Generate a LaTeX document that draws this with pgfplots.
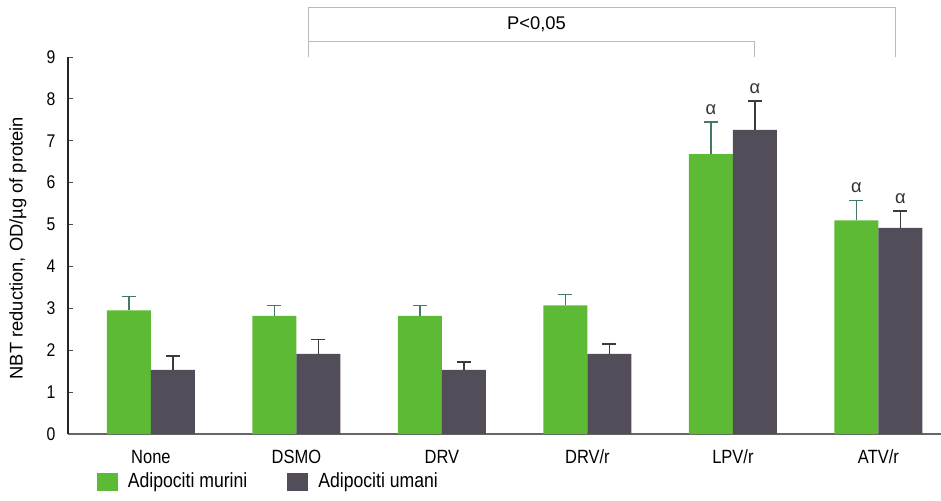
\documentclass[border=0pt]{standalone}
\usepackage{pgfplots}
\pgfplotsset{compat=1.18}
\usepackage{fontspec}
\setmainfont{Liberation Sans}[FakeStretch=0.86]
\newfontfamily\plainsans{Liberation Sans}
\definecolor{barG}{RGB}{92,186,52}
\definecolor{barD}{RGB}{82,77,88}
\definecolor{errG}{RGB}{70,120,100}
\definecolor{errD}{RGB}{60,58,62}
\begin{document}
\begin{tikzpicture}
\path[use as bounding box] (-40.8pt,-39.6pt) rectangle (523.8pt,260.4pt);
\begin{axis}[
  at={(0,0)}, anchor=south west,
  scale only axis,
  width=523.8pt, height=226.2pt,
  xmin=-0.57, xmax=5.43,
  ymin=0, ymax=9,
  clip=false,
  axis x line=bottom, axis y line=left,
  x axis line style={-, draw=gray!80!black, line width=0.8pt},
  y axis line style={-, draw=black!85, line width=0.8pt},
  xtick={0,1,2,3,4,5},
  xticklabels={None,DSMO,DRV,DRV/r,LPV/r,ATV/r},
  xtick style={draw=none},
  ytick={0,1,...,9},
  ytick style={draw=black!70, line width=0.5pt},
  tick align=inside,
  major tick length=3pt,
  tick label style={font=\fontsize{11}{13}\selectfont},
  xticklabel style={font=\fontsize{11.5}{13}\selectfont, yshift=-3pt},
  yticklabel style={xshift=-4pt},
  /pgf/number format/assume math mode=true,
  ylabel={NBT reduction, OD/µg of protein},
  every axis y label/.style={at={(axis description cs:0,0.493)}, xshift=-30pt, rotate=90, anchor=center, font=\plainsans\fontsize{11}{13}\selectfont},
  ybar, bar width=26.4pt,
  legend style={at={(axis description cs:0.033,-0.126)}, anchor=west, draw=none, fill=none,
    legend columns=2, font=\fontsize{12.3}{14}\selectfont, inner sep=0pt, outer sep=0pt,
    /tikz/every odd column/.append style={column sep=4pt},
    /tikz/every even column/.append style={column sep=22pt}},
  legend image code/.code={\fill[#1] (0pt,-5.4pt) rectangle (12.6pt,5.4pt);},
]
\addplot[fill=barG, draw=none, bar shift=-13.2pt,
  error bars/.cd, y dir=plus, y explicit,
  error bar style={draw=errG, line width=0.9pt}, error mark options={rotate=90, mark size=4.2pt, draw=errG, line width=0.9pt}]
  coordinates {
  (0,2.95) +- (0,0.33)
  (1,2.82) +- (0,0.25)
  (2,2.82) +- (0,0.25)
  (3,3.07) +- (0,0.26)
  (4,6.68) +- (0,0.77)
  (5,5.10) +- (0,0.48)
};
\addlegendentry{Adipociti murini}
\addplot[fill=barD, draw=none, bar shift=13.2pt,
  error bars/.cd, y dir=plus, y explicit,
  error bar style={draw=errD, line width=0.9pt}, error mark options={rotate=90, mark size=4.2pt, draw=errD, line width=0.9pt}]
  coordinates {
  (0,1.53) +- (0,0.33)
  (1,1.91) +- (0,0.35)
  (2,1.53) +- (0,0.19)
  (3,1.91) +- (0,0.24)
  (4,7.26) +- (0,0.69)
  (5,4.92) +- (0,0.40)
};
\addlegendentry{Adipociti umani}
% significance markers
\node[font=\plainsans\fontsize{11}{12}\selectfont, anchor=south, text=black!80] at ([xshift=-13.2pt]axis cs:4,7.48) {α};
\node[font=\plainsans\fontsize{11}{12}\selectfont, anchor=south, text=black!80] at ([xshift=13.2pt]axis cs:4,7.98) {α};
\node[font=\plainsans\fontsize{11}{12}\selectfont, anchor=south, text=black!80] at ([xshift=-13.2pt]axis cs:5,5.61) {α};
\node[font=\plainsans\fontsize{11}{12}\selectfont, anchor=south, text=black!80] at ([xshift=13.2pt]axis cs:5,5.35) {α};
% brackets
\draw[gray!55, line width=0.6pt] (axis cs:1.08,9.0) -- (axis cs:1.08,10.19) -- (axis cs:5.12,10.19) -- (axis cs:5.12,9.0);
\draw[gray!55, line width=0.6pt] (axis cs:1.08,9.38) -- (axis cs:4.15,9.38) -- (axis cs:4.15,9.0);
\node[font=\plainsans\fontsize{11}{13}\selectfont] at (axis cs:2.65,9.79) {P<0,05};
\end{axis}
\end{tikzpicture}
\end{document}
